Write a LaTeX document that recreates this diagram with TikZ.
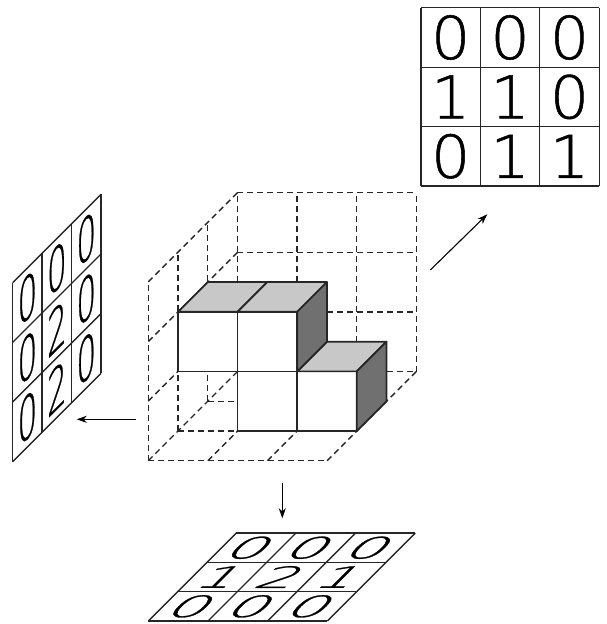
\documentclass[tikz,border=0pt]{standalone}
\usepackage{fontspec}
\usetikzlibrary{arrows.meta}
\newfontfamily\digfont[FakeBold=0.9,FakeStretch=1.05]{DejaVu Sans ExtraLight}
\definecolor{topgray}{HTML}{C8C8C8}
\definecolor{sidegray}{HTML}{707070}
\tikzset{
  wire/.style={line width=1.35pt,draw=black!85,dash pattern=on 6pt off 4pt},
  cubeline/.style={line width=1.7pt,draw=black!85,line join=round},
  frontface/.style={cubeline,fill=white},
  topface/.style={cubeline,fill=topgray},
  sideface/.style={cubeline,fill=sidegray},
  gridline/.style={line width=1.35pt,draw=black!85,line join=miter},
  digit/.style={inner sep=0pt,font=\digfont\fontsize{59}{59}\selectfont},
  leftdigit/.style={digit,cm={.5,.5,0,1,(0,0)}},
  floordigit/.style={digit,cm={1,0,.5,.5,(0,0)}},
  pointer/.style={line width=1.1pt,-{Stealth[length=10pt,width=7pt,inset=3pt]}}
}
\newcommand{\panelgrid}{%
  \foreach \k in {0,1,2,3}{
    \draw[gridline] (\k,0) -- (\k,3);
    \draw[gridline] (0,\k) -- (3,\k);
  }}
\begin{document}
\begin{tikzpicture}
\useasboundingbox (0pt,0pt) rectangle (606pt,624pt);
% box and cubes
\begin{scope}[shift={(148.3pt,163.3pt)},x={(59.6pt,0pt)},y={(29.7pt,29.7pt)},z={(0pt,59.6pt)}]
  % floor
  \foreach \k in {0,1,2,3}{
    \draw[wire] (\k,0,0) -- (\k,3,0);
    \draw[wire] (0,\k,0) -- (3,\k,0);
  }
  % left wall
  \foreach \k in {0,1,2}{
    \draw[wire] (0,\k,0) -- (0,\k,3);
  }
  \foreach \k in {1,2,3}{
    \draw[wire] (0,0,\k) -- (0,3,\k);
  }
  % back wall
  \foreach \k in {0,1,2,3}{
    \draw[wire] (\k,3,0) -- (\k,3,3);
  }
  \foreach \k in {1,2,3}{
    \draw[wire] (0,3,\k) -- (3,3,\k);
  }
  % lower cubes
  \draw[frontface] (1,1,0) -- (2,1,0) -- (2,1,1) -- (1,1,1) -- cycle;
  \draw[frontface] (2,1,0) -- (3,1,0) -- (3,1,1) -- (2,1,1) -- cycle;
  \draw[topface] (2,1,1) -- (3,1,1) -- (3,2,1) -- (2,2,1) -- cycle;
  \draw[sideface] (3,1,0) -- (3,2,0) -- (3,2,1) -- (3,1,1) -- cycle;
  % upper cubes
  \draw[frontface] (0,1,1) -- (1,1,1) -- (1,1,2) -- (0,1,2) -- cycle;
  \draw[frontface] (1,1,1) -- (2,1,1) -- (2,1,2) -- (1,1,2) -- cycle;
  \draw[topface] (0,1,2) -- (1,1,2) -- (1,2,2) -- (0,2,2) -- cycle;
  \draw[topface] (1,1,2) -- (2,1,2) -- (2,2,2) -- (1,2,2) -- cycle;
  \draw[sideface] (2,1,1) -- (2,2,1) -- (2,2,2) -- (2,1,2) -- cycle;
\end{scope}
% top-right panel
\begin{scope}[shift={(421pt,438pt)},x={(59.4pt,0pt)},y={(0pt,59.4pt)}]
  \panelgrid
  \foreach \d [count=\i from 0] in {0,1,1}{\node[digit] (ra\i) at (\i+.5,.5) {\d};}
  \foreach \d [count=\i from 0] in {1,1,0}{\node[digit] (rb\i) at (\i+.5,1.5) {\d};}
  \foreach \d [count=\i from 0] in {0,0,0}{\node[digit] (rc\i) at (\i+.5,2.5) {\d};}
\end{scope}
% left panel
\begin{scope}[shift={(12.7pt,162.3pt)},x={(29.45pt,29.45pt)},y={(0pt,59.7pt)}]
  \panelgrid
  \foreach \d [count=\i from 0] in {0,2,0}{\node[leftdigit] (la\i) at (\i+.5,.5) {\d};}
  \foreach \d [count=\i from 0] in {0,2,0}{\node[leftdigit] (lb\i) at (\i+.5,1.5) {\d};}
  \foreach \d [count=\i from 0] in {0,0,0}{\node[leftdigit] (lc\i) at (\i+.5,2.5) {\d};}
\end{scope}
% bottom panel
\begin{scope}[shift={(148.3pt,3pt)},x={(59.7pt,0pt)},y={(29.3pt,29.3pt)}]
  \panelgrid
  \foreach \d [count=\i from 0] in {0,0,0}{\node[floordigit] (fa\i) at (\i+.5,.5) {\d};}
  \foreach \d [count=\i from 0] in {1,2,1}{\node[floordigit] (fb\i) at (\i+.5,1.5) {\d};}
  \foreach \d [count=\i from 0] in {0,0,0}{\node[floordigit] (fc\i) at (\i+.5,2.5) {\d};}
\end{scope}
% arrows
\coordinate (ars) at (430.3pt,354pt);
\coordinate (are) at (487.3pt,409.7pt);
\coordinate (als) at (136pt,204.7pt);
\coordinate (ale) at (76.7pt,204.7pt);
\coordinate (abs) at (282.3pt,140.7pt);
\coordinate (abe) at (282.3pt,105.7pt);
\draw[pointer] (ars) -- (are);
\draw[pointer] (als) -- (ale);
\draw[pointer] (abs) -- (abe);
\end{tikzpicture}
\end{document}
